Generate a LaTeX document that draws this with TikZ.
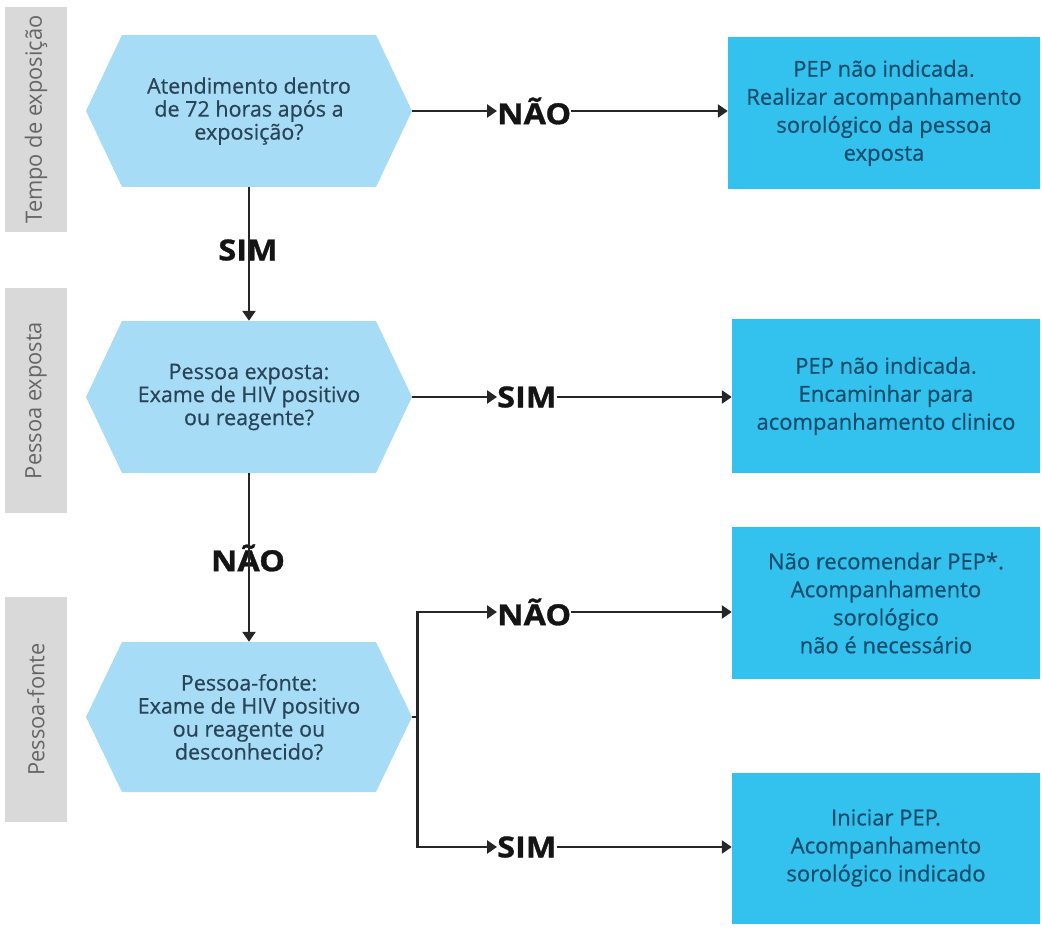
\documentclass[tikz,border=0pt]{standalone}
\usepackage{fontspec}
\setmainfont{Open Sans}
\usetikzlibrary{arrows.meta,calc}

\definecolor{hexblue}{HTML}{A6DCF5}
\definecolor{boxblue}{HTML}{33C1EE}
\definecolor{bargray}{HTML}{D9D9D9}
\definecolor{bartext}{HTML}{666666}
\definecolor{hextext}{HTML}{2A4457}
\definecolor{boxtext}{HTML}{1A4D6C}
\definecolor{linegray}{HTML}{262626}

\tikzset{
  sidebar/.style={fill=bargray, minimum width=62pt, minimum height=225pt,
    inner sep=0pt},
  sidetext/.style={rotate=90, text=bartext,
    font=\fontsize{22.5}{24}\selectfont\addfontfeatures{FakeStretch=0.97}},
  hexnode/.style={minimum width=326pt, minimum height=152pt, inner sep=0pt,
    align=center, text=hextext,
    font=\fontsize{21.5}{23}\selectfont\addfontfeatures{FakeBold=0.6},
    path picture={
      \fill[hexblue]
        (path picture bounding box.west)
        -- ([xshift=36pt]path picture bounding box.north west)
        -- ([xshift=-36pt]path picture bounding box.north east)
        -- (path picture bounding box.east)
        -- ([xshift=-36pt]path picture bounding box.south east)
        -- ([xshift=36pt]path picture bounding box.south west)
        -- cycle;}},
  outbox/.style={fill=boxblue, minimum width=308pt, minimum height=152pt,
    inner sep=0pt, align=center, text=boxtext,
    font=\fontsize{22}{28}\selectfont\addfontfeatures{FakeBold=0.6}},
  answer/.style={inner sep=0pt, text=black!92,
    font=\fontsize{29}{30}\selectfont\bfseries\addfontfeatures{FakeStretch=1.12,FakeBold=1}},
  flow/.style={draw=linegray, line width=2.8pt,
    -{Triangle[length=10pt,width=13pt]}},
  plain/.style={draw=linegray, line width=2.8pt}
}

\begin{document}
\begin{tikzpicture}[x=1pt, y=-1pt]
  \useasboundingbox (0,0) rectangle (1042,928);

  % side bars with the stage names
  \node[sidebar] (bar1) at (36,119.5) {};
  \node[sidetext] (bar1t) at (bar1.center) {Tempo de exposição};
  \node[sidebar] (bar2) at (36,400.5) {};
  \node[sidetext] (bar2t) at (bar2.center) {Pessoa exposta};
  \node[sidebar] (bar3) at (36,709.5) {};
  \node[sidetext] (bar3t) at (bar3.center) {Pessoa-fonte};

  % decision hexagons
  \node[hexnode] (h1) at (249,111) {Atendimento dentro\\de 72 horas após a\\exposição?};
  \node[hexnode] (h2) at (249,397) {Pessoa exposta:\\Exame de HIV positivo\\ou reagente?};
  \node[hexnode, minimum height=150pt] (h3) at (249,717)
    {Pessoa-fonte:\\Exame de HIV positivo\\ou reagente ou\\desconhecido?};

  % outcome boxes
  \node[outbox, minimum width=312pt] (b1) at (884,113)
    {PEP não indicada.\\Realizar acompanhamento\\sorológico da pessoa\\exposta};
  \node[outbox, minimum height=154pt] (b2) at (886,396)
    {PEP não indicada.\\Encaminhar para\\acompanhamento clinico};
  \node[outbox] (b3) at (886,603)
    {Não recomendar PEP*.\\Acompanhamento\\sorológico\\não é necessário};
  \node[outbox, minimum height=151pt] (b4) at (886,848)
    {Iniciar PEP.\\Acompanhamento\\sorológico indicado};

  % answer labels
  \node[answer, anchor=west] (l1) at (497,111) {NÃO};
  \node[answer, anchor=west] (l2) at (497,397) {SIM};
  \node[answer, anchor=west] (l3) at (497,612) {NÃO};
  \node[answer, anchor=west] (l4) at (497,847) {SIM};
  \node[answer] (v1) at (248,250) {SIM};
  \node[answer] (v2) at (248,558) {NÃO};

  % vertical flow
  \draw[flow] (h1.south) -- (h2.north);
  \draw[flow] (h2.south) -- (h3.north);

  % horizontal flow
  \draw[flow] (h1.east) -- (l1.west);
  \draw[flow] (l1.east) -- (l1.east -| b1.west);
  \draw[flow] (h2.east) -- (l2.west);
  \draw[flow] (l2.east) -- (l2.east -| b2.west);

  \coordinate (j) at ([xshift=5pt]h3.east);
  \draw[plain] (h3.east) -- (j);
  \draw[flow] (j) |- (l3.west);
  \draw[flow] (j) |- (l4.west);
  \draw[flow] (l3.east) -- (l3.east -| b3.west);
  \draw[flow] (l4.east) -- (l4.east -| b4.west);
\end{tikzpicture}
\end{document}
